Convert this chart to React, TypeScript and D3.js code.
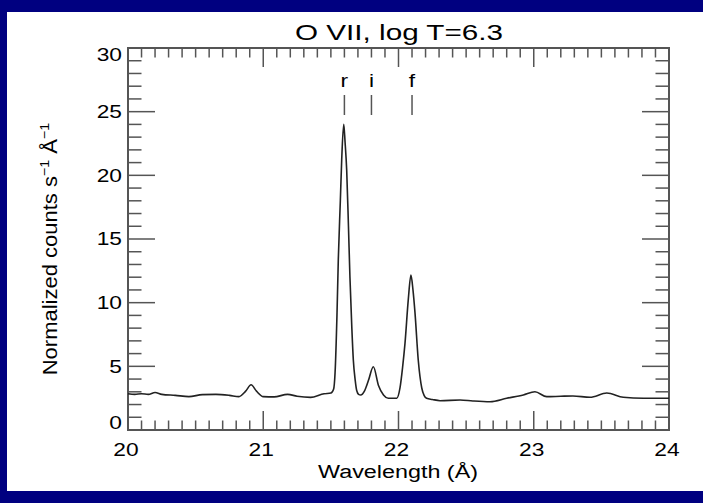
import React from "react";
import * as d3 from "d3";

const wavelength = [
  20.0, 20.05, 20.1, 20.15, 20.2, 20.25, 20.35, 20.45, 20.55, 20.65, 20.75, 20.82, 20.87, 20.91, 20.95,
  21.0, 21.08, 21.18, 21.25, 21.35, 21.45, 21.5, 21.52, 21.531, 21.545, 21.555, 21.57, 21.58, 21.595,
  21.605, 21.617, 21.63, 21.641, 21.655, 21.666, 21.68, 21.691, 21.705, 21.72, 21.75, 21.778, 21.814,
  21.852, 21.889, 21.925, 21.987, 22.011, 22.03, 22.048, 22.072, 22.092, 22.107, 22.122, 22.146, 22.172,
  22.19, 22.208, 22.25, 22.307, 22.455, 22.55, 22.677, 22.8, 22.923, 23.009, 23.096,
  23.2, 23.29, 23.416, 23.54, 23.662, 23.81, 24.0,
];
const counts = [
  2.85, 2.8, 2.85, 2.8, 2.95, 2.8, 2.72, 2.62, 2.78, 2.8, 2.72, 2.62, 3.05, 3.55, 3.05,
  2.62, 2.6, 2.8, 2.65, 2.56, 2.85, 2.9, 3.2, 4.5, 9.0, 13.4, 18.0, 21.2, 24.0,
  22.6, 20.4, 16.0, 12.0, 8.0, 5.5, 3.9, 3.1, 2.8, 2.75, 3.1, 3.9, 4.97,
  3.5, 2.75, 2.49, 2.49, 3.3, 4.9, 6.8, 10.2, 12.17, 11.0, 9.2, 5.5, 3.3,
  2.7, 2.49, 2.4, 2.3, 2.36, 2.28, 2.22, 2.49, 2.75, 3.0, 2.62,
  2.65, 2.67, 2.57, 2.9, 2.57, 2.49, 2.49,
];
const xMajorTicks = [20, 21, 22, 23, 24];
const yMajorTicks = [0, 5, 10, 15, 20, 25, 30];
const lineNames = ["r", "i", "f"];
const lineWavelengths = [21.6, 21.8, 22.1];
const title = "O VII, log T=6.3";

const W = 703;
const H = 503;
const L = 128, R = 669, T = 48, B = 430;
const FONT = "'Liberation Sans', Arial, Helvetica, sans-serif";
const SX = 1.3;
const AX = "#555";

function SText({ x, y, anchor = "middle", size = 17.5, children }: any) {
  return (
    <text
      transform={`translate(${x},${y}) scale(${SX},1)`}
      textAnchor={anchor}
      fontFamily={FONT}
      fontSize={size}
      fill="#000"
    >
      {children}
    </text>
  );
}

export default function App() {
  const x = d3.scaleLinear().domain([20, 24]).range([L, R]);
  const y = d3.scaleLinear().domain([0, 30]).range([B, T]);
  const line = d3
    .line<number>()
    .x((_, i) => x(wavelength[i]))
    .y((d) => y(d))
    .curve(d3.curveMonotoneX);
  const path = line(counts) || "";

  const xMinor = d3.range(200, 241).map((v) => v / 10);
  const yMinor = d3.range(0, 31);

  return (
    <svg width={W} height={H} style={{ position: "absolute", left: 0, top: 0 }}>
      <rect x={0} y={0} width={W} height={H} fill="#000080" />
      <rect x={7} y={12} width={W - 7} height={479} fill="#fff" />

      <g stroke={AX} strokeWidth={1.5}>
        {xMinor.map((v, i) => {
          const major = Math.abs(v - Math.round(v)) < 1e-6;
          const len = major ? 19 : 9.5;
          return (
            <g key={"xt" + i}>
              <line x1={x(v)} x2={x(v)} y1={B} y2={B - len} />
              <line x1={x(v)} x2={x(v)} y1={T} y2={T + len} />
            </g>
          );
        })}
        {yMinor.map((v, i) => {
          const major = v % 5 === 0;
          const len = major ? 27 : 13.5;
          return (
            <g key={"yt" + i}>
              <line x1={L} x2={L + len} y1={y(v)} y2={y(v)} />
              <line x1={R} x2={R - len} y1={y(v)} y2={y(v)} />
            </g>
          );
        })}
        <rect x={L} y={T} width={R - L} height={B - T} fill="none" strokeWidth={2} />
      </g>

      <path d={path} fill="none" stroke="#222" strokeWidth={1.6} strokeLinejoin="round" />

      {yMajorTicks.map((v) => {
        const cy = Math.min(Math.max(y(v), T + 7), B - 7);
        return (
          <SText key={"yl" + v} x={122} y={cy + 6.3} anchor="end">
            {v}
          </SText>
        );
      })}
      {xMajorTicks.map((v) => (
        <SText key={"xl" + v} x={x(v) - 2} y={456}>
          {v}
        </SText>
      ))}

      {lineNames.map((n, i) => (
        <g key={"ln" + n}>
          <SText x={x(lineWavelengths[i])} y={87} size={17.5}>
            {n}
          </SText>
          <line
            x1={x(lineWavelengths[i])}
            x2={x(lineWavelengths[i])}
            y1={95}
            y2={115}
            stroke={AX}
            strokeWidth={1.5}
          />
        </g>
      ))}

      <text
        x={399}
        y={40}
        textAnchor="middle"
        fontFamily={FONT}
        fontSize={22}
        textLength={208}
        lengthAdjust="spacingAndGlyphs"
        fill="#000"
      >
        {title}
      </text>

      <text
        x={398}
        y={478}
        textAnchor="middle"
        fontFamily={FONT}
        fontSize={18}
        textLength={160}
        lengthAdjust="spacingAndGlyphs"
        fill="#000"
      >
        Wavelength (Å)
      </text>

      <text
        transform="translate(57,249) rotate(-90) scale(1.1,1)"
        textAnchor="middle"
        fontFamily={FONT}
        fontSize={20}
        fill="#000"
      >
        Normalized counts s
        <tspan fontSize={13} dy={-8}>−1</tspan>
        <tspan dy={8}> Å</tspan>
        <tspan fontSize={13} dy={-8}>−1</tspan>
      </text>
    </svg>
  );
}
